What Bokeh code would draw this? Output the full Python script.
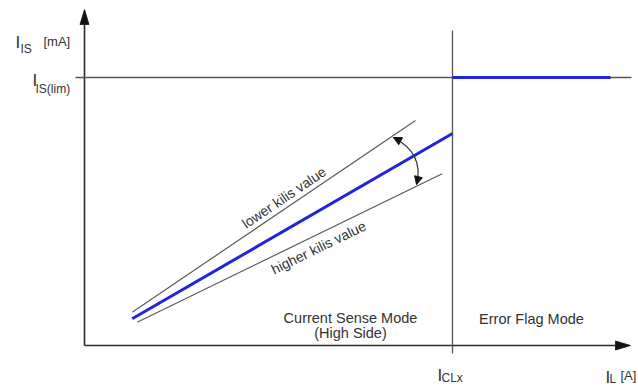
import math
from bokeh.plotting import figure
from bokeh.models import Range1d, Arrow, NormalHead
from bokeh.core.properties import value
from bokeh.embed import file_html
from bokeh.resources import INLINE

# ---- schematic data (units: origin at the corner of the axes) ----
axis_x_end = 546          # tip of the I_L axis
axis_y_end = 336          # tip of the I_IS axis
i_lim = 268               # I_IS(lim) level
i_clx = 368               # I_CLx position
lim_line_x = [-9, 547]
clx_line_y = [-8, 315]

sense_x = [47.7, 368]     # nominal current-sense characteristic
sense_y = [26.7, 212]
flag_x = [368, 526]       # error flag level
flag_y = [268, 268]
lower_kilis_x = [47.7, 331]
lower_kilis_y = [33.3, 225]
higher_kilis_x = [52.7, 357.7]
higher_kilis_y = [23.3, 171.7]
arc_start = (309, 208)
arc_ctrl = (340, 192)
arc_end = (332, 161)

mode_labels = ["Current Sense Mode", "(High Side)", "Error Flag Mode"]
mode_x = [266, 266, 447]
mode_y = [20, 5, 19]

AX = "#2b2b2b"
GRAY = "#5a5a5a"
BLUE = "#2323dc"
TXT = "#333333"
FONT = value("Liberation Sans")

p = figure(width=638, height=387, x_range=Range1d(-84, 554), y_range=Range1d(-42, 345),
           output_backend="svg", toolbar_location=None, min_border=0)
p.xaxis.visible = False
p.yaxis.visible = False
p.grid.visible = False
p.outline_line_color = None
p.background_fill_color = "white"

# axes
HEAD_LEN, HEAD_HALF = 15, 4.5
p.segment(x0=[0, 0], y0=[0, 0], x1=[axis_x_end - HEAD_LEN, 0], y1=[0, axis_y_end - HEAD_LEN],
          line_color=AX, line_width=1.6)
p.patches(xs=[[axis_x_end, axis_x_end - HEAD_LEN, axis_x_end - HEAD_LEN],
              [0, -HEAD_HALF, HEAD_HALF]],
          ys=[[0, HEAD_HALF, -HEAD_HALF],
              [axis_y_end, axis_y_end - HEAD_LEN, axis_y_end - HEAD_LEN]],
          fill_color="#111111", line_color="#111111", line_width=0.8)

# reference lines
p.line(lim_line_x, [i_lim, i_lim], line_color="#555555", line_width=1.3)
p.line([i_clx, i_clx], clx_line_y, line_color="#555555", line_width=1.3)

# kilis spread lines
p.line(lower_kilis_x, lower_kilis_y, line_color=GRAY, line_width=1.2)
p.line(higher_kilis_x, higher_kilis_y, line_color=GRAY, line_width=1.2)

# characteristic
p.line(sense_x, sense_y, line_color=BLUE, line_width=3)
p.line(flag_x, flag_y, line_color=BLUE, line_width=3)

# curved double arrow
p.quadratic(x0=[arc_start[0]], y0=[arc_start[1]], x1=[arc_end[0]], y1=[arc_end[1]],
            cx=[arc_ctrl[0]], cy=[arc_ctrl[1]], line_color="#333333", line_width=1.2)
for end in (arc_start, arc_end):
    dx, dy = end[0] - arc_ctrl[0], end[1] - arc_ctrl[1]
    n = math.hypot(dx, dy)
    p.add_layout(Arrow(end=NormalHead(size=8, fill_color="#111111", line_color="#111111"),
                       x_start=end[0] - 3 * dx / n, y_start=end[1] - 3 * dy / n,
                       x_end=end[0], y_end=end[1], line_color="#111111", line_width=1))

# axis labels
p.text(x=[-69, -52, 353, 521], y=[303, 265, -30, -32], text=["I", "I", "I", "I"],
       text_font=FONT, text_font_size="17px", text_color=TXT, text_baseline="alphabetic")
p.text(x=[-64, -49, 357, 525], y=[297, 257, -32, -33], text=["IS", "IS(lim)", "CLx", "L"],
       text_font=FONT, text_font_size="12px", text_color=TXT, text_baseline="alphabetic")
p.text(x=[-41, 536], y=[304, -30], text=["[mA]", "[A]"],
       text_font=FONT, text_font_size="13px", text_color=TXT, text_baseline="alphabetic")

# mode labels
p.text(x=mode_x, y=mode_y, text=mode_labels, text_align="center",
       text_font=FONT, text_font_size="14.5px", text_color=TXT)

# kilis labels
p.text(x=[199.5, 234], y=[148, 98], text=["lower kilis value", "higher kilis value"],
       angle=[math.atan2(lower_kilis_y[1] - lower_kilis_y[0], lower_kilis_x[1] - lower_kilis_x[0]),
              math.atan2(higher_kilis_y[1] - higher_kilis_y[0], higher_kilis_x[1] - higher_kilis_x[0])],
       text_align="center", text_baseline="middle",
       text_font=FONT, text_font_size="14px", text_color=TXT)

open("out.html", "w").write(file_html(p, INLINE))
